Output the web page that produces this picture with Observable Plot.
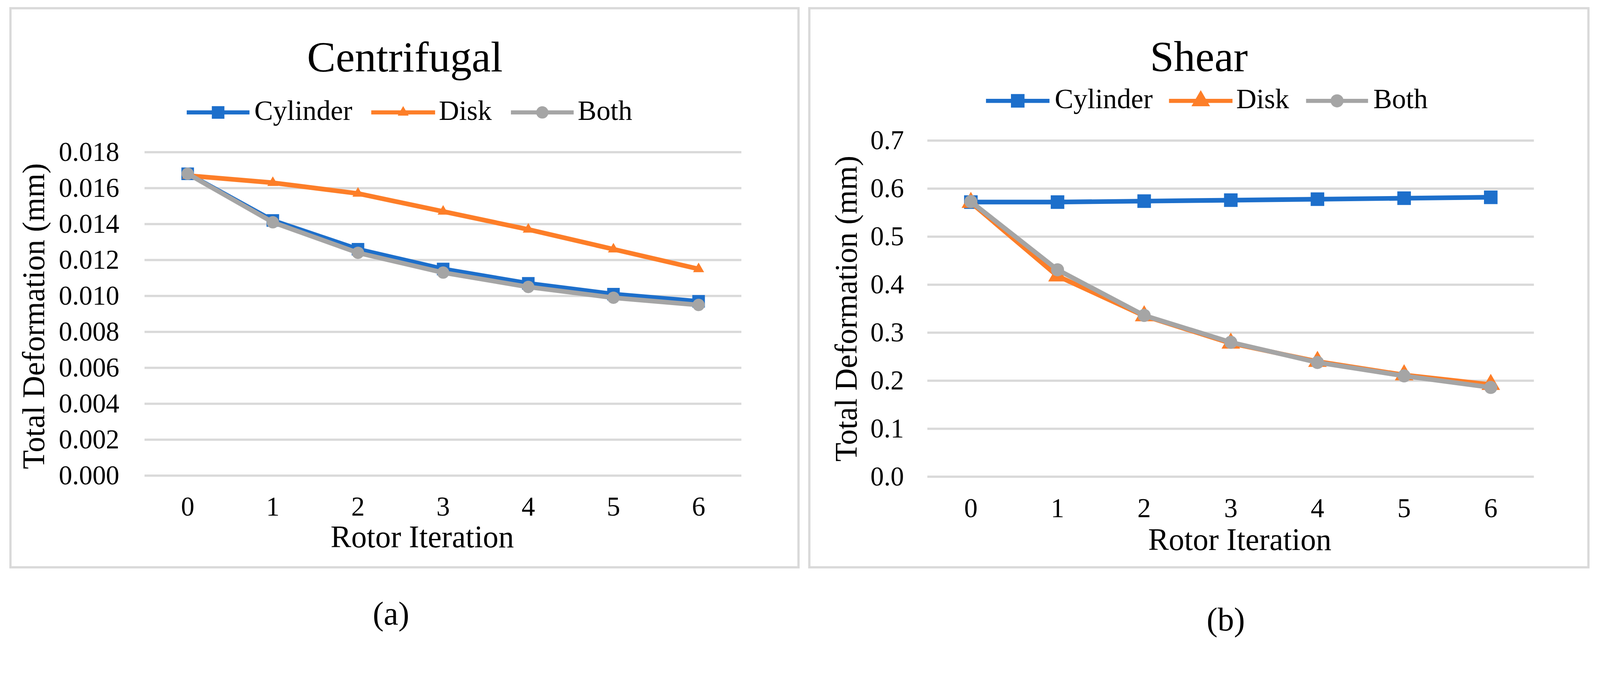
<!DOCTYPE html>
<html><head><meta charset="utf-8">
<script src="https://cdn.jsdelivr.net/npm/d3@7"></script>
<script src="https://cdn.jsdelivr.net/npm/@observablehq/plot@0.6"></script>
<style>
html,body{margin:0;padding:0;background:#fff;overflow:hidden;}
#root{position:relative;width:4284px;height:1728px;overflow:hidden;background:#fff;transform-origin:0 0;}
.abs{position:absolute;left:0;top:0;}
</style></head><body><div id="root"></div>
<script>
// ---------- data ----------
const iterations = [0, 1, 2, 3, 4, 5, 6];
const seriesNames = ["Cylinder", "Disk", "Both"];

const centrifugalCylinder = [0.0168, 0.0142, 0.0126, 0.0115, 0.0107, 0.0101, 0.0097];
const centrifugalDisk     = [0.0167, 0.0163, 0.0157, 0.0147, 0.0137, 0.0126, 0.0115];
const centrifugalBoth     = [0.0168, 0.0141, 0.0124, 0.0113, 0.0105, 0.0099, 0.0095];

const shearCylinder = [0.572, 0.572, 0.574, 0.576, 0.578, 0.580, 0.582];
const shearDisk     = [0.571, 0.418, 0.335, 0.278, 0.240, 0.212, 0.192];
const shearBoth     = [0.573, 0.431, 0.336, 0.280, 0.238, 0.210, 0.186];

const yTicksCentrifugal = [0, 0.002, 0.004, 0.006, 0.008, 0.010, 0.012, 0.014, 0.016, 0.018];
const yTicksShear = [0, 0.1, 0.2, 0.3, 0.4, 0.5, 0.6, 0.7];

const titles = ["Centrifugal", "Shear"];
const captions = ["(a)", "(b)"];
const yLabel = "Total Deformation (mm)";
const xLabel = "Rotor Iteration";

// ---------- styles / layout ----------
const FONT = "'Liberation Serif', 'Times New Roman', serif";
const colors = {Cylinder: "#1d6fcb", Disk: "#fd7e28", Both: "#a5a5a5"};
const symbols = {Cylinder: "square", Disk: "triangle", Both: "circle"};
const GRID = "#d9d9d9";

const panels = [
  {
    left: 0, width: 2150, height: 1520,
    margin: {left: 387, right: 165, top: 407, bottom: 247},
    series: [centrifugalCylinder, centrifugalDisk, centrifugalBoth],
    yTicks: yTicksCentrifugal, yDomain: [0, 0.018], fmt: d3.format(".3f"),
    yPad: 68, xPad: 56,
    radius: {Cylinder: 19, Disk: 11, Both: 16.5},
    xLab: {dx: -56, dy: 192}, yLab: {dx: -269, dy: 6},
    title: {x: 1084, y: 191}, caption: {x: 1047, y: 1672},
    legend: {y: 301, base: 321, items: [[500, 668, 681], [994, 1165, 1175], [1368, 1536, 1547]]},
    border: {l: 25, t: 19, r: 2141, b: 1522}
  },
  {
    left: 2150, width: 2134, height: 1520,
    margin: {left: 333, right: 177, top: 376, bottom: 244},
    series: [shearCylinder, shearDisk, shearBoth],
    yTicks: yTicksShear, yDomain: [0, 0.7], fmt: d3.format(".1f"),
    yPad: 63, xPad: 57,
    radius: {Cylinder: 20.5, Disk: 18.5, Both: 17.5},
    xLab: {dx: 24, dy: 196}, yLab: {dx: -190, dy: 0},
    title: {x: 3210, y: 190}, caption: {x: 3282, y: 1688},
    legend: {y: 270, base: 290, items: [[2640, 2810, 2824], [3130, 3300, 3310], [3497, 3663, 3677]]},
    border: {l: 2164, t: 19, r: 4256, b: 1522}
  }
];

const root = document.getElementById("root");
function fit() {
  const s = Math.min(window.innerWidth / 4284, window.innerHeight / 1728);
  root.style.transform = s < 0.999 ? `scale(${s})` : "none";
}
fit();
window.addEventListener("resize", fit);

panels.forEach((p) => {
  const marks = [
    Plot.ruleY(p.yTicks, {stroke: GRID, strokeWidth: 6}),
    Plot.axisY({ticks: p.yTicks, tickSize: 0, tickPadding: p.yPad, tickFormat: p.fmt, label: null, fontSize: 72}),
    Plot.axisX({tickSize: 0, tickPadding: p.xPad, label: null, fontSize: 72})
  ];
  seriesNames.forEach((name, k) => {
    const rows = iterations.map((it, i) => ({iteration: it, value: p.series[k][i], series: name}));
    marks.push(Plot.line(rows, {x: "iteration", y: "value", stroke: colors[name], strokeWidth: 12.5,
      strokeLinejoin: "round", strokeLinecap: "round"}));
    marks.push(Plot.dot(rows, {x: "iteration", y: "value", symbol: symbols[name], r: p.radius[name],
      fill: colors[name], stroke: null}));
  });
  marks.push(Plot.text([xLabel], {text: d => d, frameAnchor: "bottom", lineAnchor: "bottom", textAnchor: "middle",
    dx: p.xLab.dx, dy: p.xLab.dy, fontSize: 83, fill: "#000"}));
  marks.push(Plot.text([yLabel], {text: d => d, frameAnchor: "left", lineAnchor: "bottom", textAnchor: "middle",
    rotate: -90, dx: p.yLab.dx, dy: p.yLab.dy, fontSize: 83, fill: "#000"}));

  const svg = Plot.plot({
    width: p.width, height: p.height,
    marginLeft: p.margin.left, marginRight: p.margin.right,
    marginTop: p.margin.top, marginBottom: p.margin.bottom,
    style: {background: "transparent", fontFamily: FONT, fontSize: "72px", color: "#000", overflow: "visible"},
    x: {type: "point", domain: iterations, padding: 0.5, label: null},
    y: {domain: p.yDomain, label: null},
    marks
  });
  svg.classList.add("abs");
  svg.style.left = p.left + "px";
  svg.style.top = "0px";
  root.appendChild(svg);
});

// overlay: titles, legends, captions, panel borders
const overlay = d3.create("svg").attr("width", 4284).attr("height", 1728)
  .attr("class", "abs").style("font-family", FONT).style("overflow", "visible");

panels.forEach((p, idx) => {
  overlay.append("rect")
    .attr("x", p.border.l + 3).attr("y", p.border.t + 3)
    .attr("width", p.border.r - p.border.l - 6).attr("height", p.border.b - p.border.t - 6)
    .attr("fill", "none").attr("stroke", GRID).attr("stroke-width", 6);
  overlay.append("text").attr("x", p.title.x).attr("y", p.title.y)
    .attr("text-anchor", "middle").attr("font-size", 115).attr("fill", "#000").text(titles[idx]);
  overlay.append("text").attr("x", p.caption.x).attr("y", p.caption.y)
    .attr("text-anchor", "middle").attr("font-size", 88).attr("fill", "#000").text(captions[idx]);
  seriesNames.forEach((name, k) => {
    const [x1, x2, tx] = p.legend.items[k];
    const g = overlay.append("g");
    g.append("line").attr("x1", x1).attr("x2", x2).attr("y1", p.legend.y).attr("y2", p.legend.y)
      .attr("stroke", colors[name]).attr("stroke-width", 11);
    const symType = name === "Cylinder" ? d3.symbolSquare : name === "Disk" ? d3.symbolTriangle : d3.symbolCircle;
    const r = p.radius[name];
    g.append("path").attr("d", d3.symbol(symType, Math.PI * r * r)())
      .attr("transform", `translate(${(x1 + x2) / 2},${p.legend.y})`).attr("fill", colors[name]);
    g.append("text").attr("x", tx).attr("y", p.legend.base).attr("font-size", 75).attr("fill", "#000").text(name);
  });
});
root.appendChild(overlay.node());
</script>
</body></html>
